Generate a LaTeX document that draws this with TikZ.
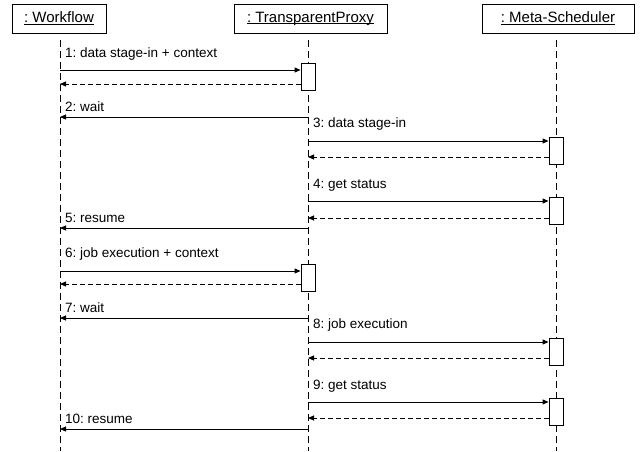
\documentclass[tikz,border=0pt]{standalone}
\usepackage{fontspec}
\setmainfont{Liberation Sans}
\usetikzlibrary{arrows.meta}
\frenchspacing
\newcommand\ulname[1]{\setbox0\hbox{#1}\rlap{\rule[-2pt]{\wd0}{0.8pt}}\box0}
\begin{document}
\begin{tikzpicture}[x=1pt,y=-1pt,
  head/.style={draw, line width=0.9pt, minimum height=29pt, inner sep=0pt, font=\fontsize{15}{18}\selectfont},
  life/.style={line width=0.9pt, dash pattern=on 7pt off 4pt},
  act/.style={draw, fill=white, line width=0.9pt, minimum width=14pt, minimum height=27pt, inner sep=0pt},
  msg/.style={line width=0.9pt, -{Triangle[length=6pt,width=5pt]}},
  ret/.style={msg, dash pattern=on 5pt off 3pt},
  lbl/.style={anchor=base west, inner sep=0pt, font=\frenchspacing\fontsize{13.5}{15}\selectfont}]
\useasboundingbox (0,0) rectangle (641,451);
% headers
\node[head, minimum width=94pt] (wf) at (59,18.5) {\frenchspacing\ulname{: Workflow}};
\node[head, minimum width=153pt] (tp) at (310.5,18.5) {\frenchspacing\ulname{: TransparentProxy}};
\node[head, minimum width=152pt] (ms) at (558,18.5) {\frenchspacing\ulname{: Meta-Scheduler}};
% lifelines
\coordinate (wfT) at (60,40);  \coordinate (wfB) at (60,451);
\coordinate (tpT) at (308,40); \coordinate (tpB) at (308,451);
\coordinate (msT) at (556,40); \coordinate (msB) at (556,451);
\draw[life] (wfT) -- (wfB);
\draw[life] (tpT) -- (tpB);
\draw[life] (msT) -- (msB);
% activation boxes
\node[act] (a1) at (308,76.5) {};
\node[act] (a2) at (556,150.5) {};
\node[act] (a3) at (556,210.5) {};
\node[act] (a4) at (308,277.5) {};
\node[act] (a5) at (556,351.5) {};
\node[act] (a6) at (556,411.5) {};
% message 1
\coordinate (m1) at (60,70);  \draw[msg] (m1) -- (m1 -| a1.west);
\coordinate (r1) at (60,84);  \draw[ret] (r1 -| a1.west) -- (r1);
\node[lbl] (l1) at (65,57) {1: data stage-in + context};
% message 2
\coordinate (m2s) at (308,117); \coordinate (m2e) at (60,117);
\draw[msg] (m2s) -- (m2e);
\node[lbl] (l2) at (65,111) {2: wait};
% message 3
\coordinate (m3) at (308,141); \draw[msg] (m3) -- (m3 -| a2.west);
\coordinate (r3) at (308,157); \draw[ret] (r3 -| a2.west) -- (r3);
\node[lbl] (l3) at (313,127) {3: data stage-in};
% message 4
\coordinate (m4) at (308,201); \draw[msg] (m4) -- (m4 -| a3.west);
\coordinate (r4) at (308,218); \draw[ret] (r4 -| a3.west) -- (r4);
\node[lbl] (l4) at (313,188) {4: get status};
% message 5
\coordinate (m5s) at (308,228); \coordinate (m5e) at (60,228);
\draw[msg] (m5s) -- (m5e);
\node[lbl] (l5) at (65,222) {5: resume};
% message 6
\coordinate (m6) at (60,271); \draw[msg] (m6) -- (m6 -| a4.west);
\coordinate (r6) at (60,284); \draw[ret] (r6 -| a4.west) -- (r6);
\node[lbl] (l6) at (65,257) {6: job execution + context};
% message 7
\coordinate (m7s) at (308,318); \coordinate (m7e) at (60,318);
\draw[msg] (m7s) -- (m7e);
\node[lbl] (l7) at (65,312) {7: wait};
% message 8
\coordinate (m8) at (308,342); \draw[msg] (m8) -- (m8 -| a5.west);
\coordinate (r8) at (308,358); \draw[ret] (r8 -| a5.west) -- (r8);
\node[lbl] (l8) at (313,328) {8: job execution};
% message 9
\coordinate (m9) at (308,402); \draw[msg] (m9) -- (m9 -| a6.west);
\coordinate (r9) at (308,418); \draw[ret] (r9 -| a6.west) -- (r9);
\node[lbl] (l9) at (313,389) {9: get status};
% message 10
\coordinate (m10s) at (308,429); \coordinate (m10e) at (60,429);
\draw[msg] (m10s) -- (m10e);
\node[lbl] (l10) at (65,423) {10: resume};
\end{tikzpicture}
\end{document}
